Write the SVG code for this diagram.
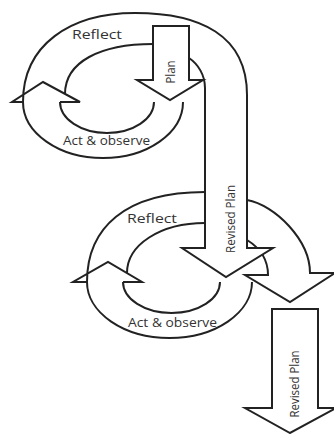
<svg xmlns="http://www.w3.org/2000/svg" width="334" height="434" viewBox="0 0 334 434">
<style>
.ln{fill:none;stroke:#222;stroke-width:2;stroke-linejoin:miter;stroke-linecap:butt}
.fl{fill:#fff;stroke:none}
.sh{fill:#fff;stroke:#222;stroke-width:2;stroke-linejoin:miter}
.t{font-family:"Open Sans","Liberation Sans",sans-serif;font-size:13px;fill:#333}
</style>
<rect width="334" height="434" fill="#fff"/>
<g id="connectors">
</g>
<g id="act2">
<path class="ln" d="M87 282 A82.5 56 0 0 0 252 282"/>
<path class="ln" d="M123 282 A48.5 31 0 0 0 220 282"/>
<text class="t" x="128" y="327" textLength="89" lengthAdjust="spacingAndGlyphs">Act &amp; observe</text>
</g>
<g id="reflect2">
<path class="ln" d="M205 192 C125 192 87 228 87 282 M87 282 L73 282 L108 262 L142 282 L123 282 M127 273 C127 245 160 223 205 223"/>
<text class="t" x="127" y="223" textLength="50" lengthAdjust="spacingAndGlyphs">Reflect</text>
</g>
<g id="revised-curve">
<path class="fl" d="M247 200 C275 205 310 240 310 273 L335 273 L290 302 L245 275 L268 275 C268 260 260 248 247 240 Z"/>
<path class="ln" d="M247 200 C275 205 310 240 310 273 L335 273 L290 302 L245 275 L268 275 C268 260 260 248 247 240"/>
</g>
<g id="revised-plan-1">
<path class="fl" d="M205 85 L247 85 L247 248 L273 248 L226 277 L182 248 L205 248 Z"/>
<path class="ln" d="M247 95 L247 248 L273 248 L226 277 L182 248 L205 248 L205 88 C205 75 198 64 189 58"/>
<text class="t" transform="translate(235 219) rotate(-90)" text-anchor="middle" textLength="68" lengthAdjust="spacingAndGlyphs">Revised Plan</text>
</g>
<g id="reflect1">
<path class="ln" d="M247 95 C247 35 200 13 135 13 C70 13 23 45 23 102 M23 102 L12 102 L43 82 L80 102 L60 102 M65 94 C65 62 100 44 153 44"/>
<text class="t" x="72" y="39" textLength="50" lengthAdjust="spacingAndGlyphs">Reflect</text>
</g>
<g id="act1">
<path class="ln" d="M23 102 A80 56 0 0 0 183 102"/>
<path class="ln" d="M60 102 A47 31 0 0 0 154 102"/>
<text class="t" x="63" y="145" textLength="87" lengthAdjust="spacingAndGlyphs">Act &amp; observe</text>
</g>
<g id="plan">
<path class="sh" d="M153 26 L189 26 L189 80 L203 80 L170 100 L137 80 L153 80 Z"/>
<text class="t" transform="translate(175 72) rotate(-90)" text-anchor="middle" textLength="23" lengthAdjust="spacingAndGlyphs">Plan</text>
</g>
<g id="revised-plan-2">
<path class="sh" d="M272 309 L318 309 L318 408 L336 408 L290 433 L245 408 L272 408 Z"/>
<text class="t" transform="translate(299 384) rotate(-90)" text-anchor="middle" textLength="67" lengthAdjust="spacingAndGlyphs">Revised Plan</text>
</g>
</svg>
